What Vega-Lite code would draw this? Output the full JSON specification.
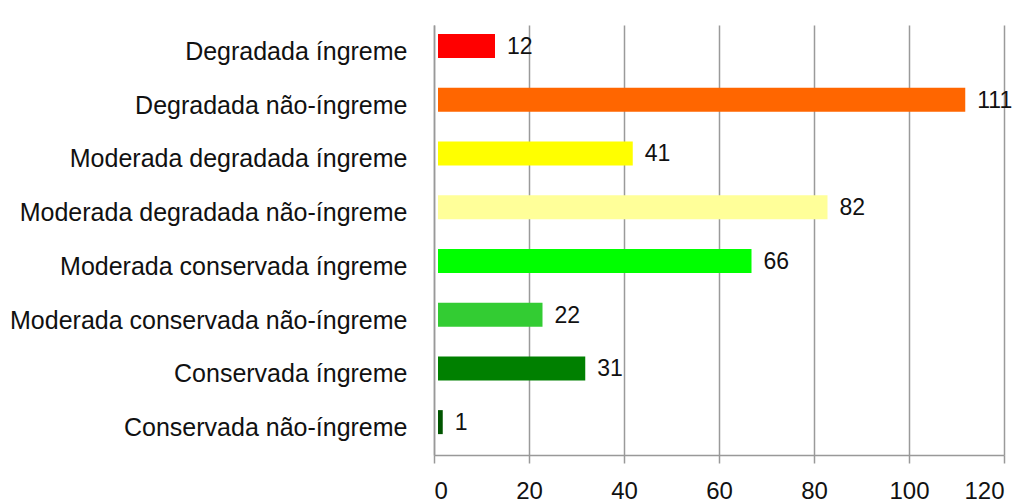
{
  "$schema": "https://vega.github.io/schema/vega-lite/v6.json",
  "width": 570,
  "height": 430,
  "autosize": {"type": "none"},
  "padding": {"left": 434, "top": 25, "right": 20, "bottom": 49},
  "background": "white",
  "data": {
    "values": [
      {"classe": "Degradada íngreme", "n": 12},
      {"classe": "Degradada não-íngreme", "n": 111},
      {"classe": "Moderada degradada íngreme", "n": 41},
      {"classe": "Moderada degradada não-íngreme", "n": 82},
      {"classe": "Moderada conservada íngreme", "n": 66},
      {"classe": "Moderada conservada não-íngreme", "n": 22},
      {"classe": "Conservada íngreme", "n": 31},
      {"classe": "Conservada não-íngreme", "n": 1}
    ]
  },
  "config": {
    "view": {"stroke": null},
    "font": "Liberation Sans"
  },
  "encoding": {
    "y": {
      "field": "classe",
      "type": "nominal",
      "sort": null,
      "title": null,
      "scale": {"paddingInner": 0, "paddingOuter": 0},
      "axis": {
        "labelFont": "Liberation Sans",
        "labelFontSize": 25,
        "labelColor": "#111111",
        "labelPadding": 27,
        "ticks": false,
        "domainColor": "#999999",
        "domainWidth": 1.5,
        "labelLimit": 500
      }
    },
    "x": {
      "field": "n",
      "type": "quantitative",
      "title": null,
      "scale": {"domain": [0, 120], "nice": false},
      "axis": {
        "values": [0, 20, 40, 60, 80, 100, 120],
        "labelFont": "Liberation Sans",
        "labelFontSize": 24,
        "labelColor": "#111111",
        "labelPadding": 16,
        "tickSize": 8,
        "tickColor": "#999999",
        "tickWidth": 1.5,
        "domainColor": "#999999",
        "domainWidth": 1.5,
        "grid": true,
        "gridColor": "#9a9a9a",
        "gridWidth": 1.5
      }
    }
  },
  "layer": [
    {
      "mark": {"type": "bar", "size": 24, "yOffset": -6, "xOffset": 4, "stroke": null},
      "encoding": {
        "color": {
          "field": "classe",
          "type": "nominal",
          "legend": null,
          "scale": {
            "domain": [
              "Degradada íngreme",
              "Degradada não-íngreme",
              "Moderada degradada íngreme",
              "Moderada degradada não-íngreme",
              "Moderada conservada íngreme",
              "Moderada conservada não-íngreme",
              "Conservada íngreme",
              "Conservada não-íngreme"
            ],
            "range": ["#ff0000", "#ff6600", "#ffff00", "#ffff99", "#00ff00", "#33cc33", "#008000", "#005500"]
          }
        }
      }
    },
    {
      "mark": {"type": "text", "align": "left", "dx": 16, "dy": -5, "fontSize": 23, "font": "Liberation Sans", "color": "#111111"},
      "encoding": {
        "text": {"field": "n", "type": "quantitative"}
      }
    }
  ]
}
